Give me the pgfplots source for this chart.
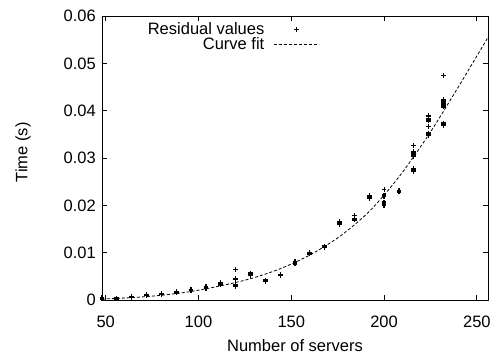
\documentclass[border=0pt]{standalone}
\usepackage{fontspec}
\setmainfont{Liberation Sans}
\usepackage{pgfplots}
\pgfplotsset{compat=1.18}
\begin{document}
\begin{tikzpicture}
\path[use as bounding box] (-102bp,-56bp) rectangle (393bp,300bp);
\begin{axis}[
  at={(0,0)}, anchor=south west,
  scale only axis, width=386bp, height=284bp,
  xmin=48, xmax=256, ymin=0, ymax=0.06,
  xtick={50,100,150,200,250},
  ytick={0,0.01,0.02,0.03,0.04,0.05,0.06},
  yticklabels={0,0.01,0.02,0.03,0.04,0.05,0.06},
  scaled y ticks=false,
  tick align=inside, tick pos=both, major tick length=5bp,
  tick style={line width=0.8bp, black},
  axis line style={line width=0.8bp},
  font=\fontsize{16.5bp}{19bp}\selectfont,
  /pgf/number format/assume math mode=true,
  xticklabel style={anchor=base, inner sep=0pt, yshift=-27bp},
  yticklabel style={anchor=east, inner sep=0pt, xshift=-6bp},
  xlabel={Number of servers}, ylabel={Time (s)},
  xlabel style={at={(axis description cs:0.5,-0.1796)}, anchor=base},
  ylabel style={at={(axis description cs:-0.2047,0.52)}, anchor=center},
  legend plot pos=right,
  legend cell align=right,
  legend style={draw=none, fill=none, at={(axis description cs:0.563,0.985)}, anchor=north east,
    inner sep=0pt, row sep=-2bp, font=\fontsize{16.5bp}{19bp}\selectfont,
    nodes={inner sep=2bp},
    /tikz/every odd column/.append style={column sep=7bp}},
]
\addplot[only marks, mark=+, black, mark size=2.4bp, mark options={line width=1.3bp},
  legend image code/.code={\draw[mark options={line width=0.7bp}] plot coordinates {(22.5bp,0bp)};}]
  table[row sep=\\] {
x y \\
48 0.0002 \\ 48 0.0003 \\ 48 0.0004 \\ 48 0.0005 \\
56 0.0002 \\ 56 0.0003 \\ 56 0.0004 \\
64 0.0006 \\ 64 0.0007 \\ 64 0.0008 \\
72 0.0009 \\ 72 0.0010 \\ 72 0.0011 \\
80 0.0011 \\ 80 0.0012 \\ 80 0.0013 \\
88 0.0015 \\ 88 0.0016 \\ 88 0.0018 \\
96 0.0020 \\ 96 0.0021 \\ 96 0.0022 \\
104 0.0025 \\ 104 0.0026 \\ 104 0.0028 \\
112 0.0032 \\ 112 0.0034 \\ 112 0.0035 \\ 112 0.0037 \\
128 0.0052 \\ 128 0.0053 \\ 128 0.0055 \\ 128 0.0057 \\
120 0.0043 \\ 120 0.0044 \\ 120 0.0045 \\ 120 0.0033 \\ 120 0.0031 \\ 120 0.0030 \\ 120 0.0028 \\
136 0.0039 \\ 136 0.0040 \\ 136 0.0042 \\
144 0.0052 \\ 144 0.0053 \\ 144 0.0054 \\
152 0.0076 \\ 152 0.0078 \\ 152 0.0079 \\ 152 0.0081 \\
160 0.0097 \\ 160 0.0098 \\ 160 0.0100 \\
168 0.0111 \\ 168 0.0112 \\ 168 0.0114 \\
176 0.0159 \\ 176 0.0161 \\ 176 0.0162 \\ 176 0.0164 \\ 176 0.0166 \\
184 0.0169 \\ 184 0.0171 \\ 184 0.0172 \\
192 0.0214 \\ 192 0.0216 \\ 192 0.0217 \\ 192 0.0219 \\ 192 0.0220 \\
200 0.0222 \\ 200 0.0220 \\ 200 0.0219 \\ 200 0.0207 \\ 200 0.0205 \\ 200 0.0203 \\ 200 0.0201 \\ 200 0.0200 \\
208 0.0228 \\ 208 0.0229 \\ 208 0.0231 \\
216 0.0314 \\ 216 0.0312 \\ 216 0.0310 \\ 216 0.0308 \\ 216 0.0307 \\ 216 0.0305 \\ 216 0.0304 \\ 216 0.0278 \\ 216 0.0276 \\ 216 0.0274 \\ 216 0.0272 \\ 216 0.0271 \\
224 0.0384 \\ 224 0.0382 \\ 224 0.0378 \\ 224 0.0353 \\ 224 0.0351 \\ 224 0.0350 \\ 224 0.0348 \\ 224 0.0347 \\
232 0.0424 \\ 232 0.0422 \\ 232 0.0421 \\ 232 0.0419 \\ 232 0.0417 \\ 232 0.0414 \\ 232 0.0412 \\ 232 0.0410 \\ 232 0.0408 \\ 232 0.0374 \\ 232 0.0372 \\ 232 0.0371 \\ 232 0.0369 \\ 232 0.0368 \\
};
\addlegendentry{Residual values}
\addplot[only marks, mark=+, black, mark size=2.3bp, mark options={line width=0.7bp}, forget plot]
  table[row sep=\\] {
x y \\
120 0.0064 \\ 184 0.0178 \\ 200 0.0233 \\ 216 0.0326 \\ 224 0.0391 \\ 224 0.0387 \\ 224 0.0367 \\ 232 0.0474 \\
};
\addplot[black, line width=0.8bp, dash pattern=on 3bp off 2bp, smooth,
  legend image code/.code={\draw (0bp,0bp) -- (45bp,0bp);}]
  coordinates {
(48,0.0002) (64,0.0005) (80,0.0010) (96,0.0018) (112,0.0030) (128,0.0045)
(144,0.0066) (160,0.0095) (176,0.0134) (192,0.0187) (208,0.0260) (224,0.0349)
(240,0.0450) (256,0.0555)
};
\addlegendentry{Curve fit}
\end{axis}
\end{tikzpicture}
\end{document}
